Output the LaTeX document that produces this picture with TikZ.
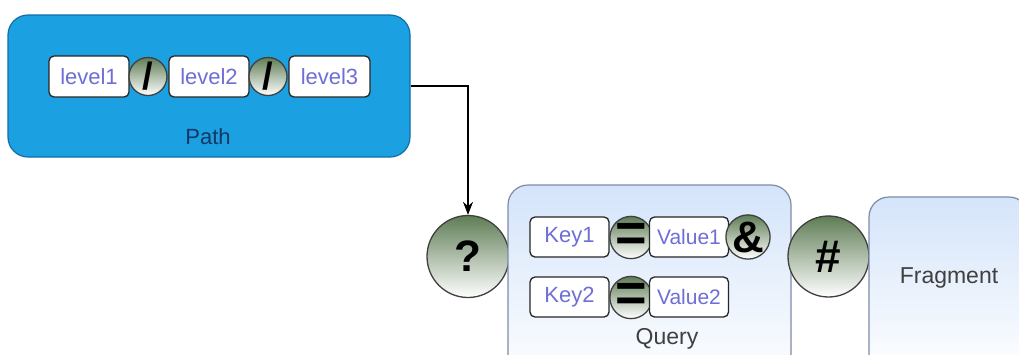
\documentclass[tikz,border=0pt]{standalone}
\usepackage{fontspec}
\setmainfont{Liberation Sans}
\usetikzlibrary{arrows.meta}
\definecolor{pathblue}{RGB}{27,160,225}
\definecolor{pathborder}{RGB}{16,110,170}
\definecolor{pathtext}{RGB}{20,55,100}
\definecolor{labeltxt}{RGB}{110,110,215}
\definecolor{symtop}{RGB}{95,125,85}
\definecolor{qfill}{RGB}{212,228,250}
\definecolor{qborder}{RGB}{125,140,165}
\begin{document}
\begin{tikzpicture}[x=1pt,y=-1pt,
  bigbox/.style={rounded corners=20pt, line width=1.2pt, inner sep=0pt},
  pathbox/.style={bigbox, fill=pathblue, draw=pathborder},
  qbox/.style={bigbox, draw=qborder, top color=qfill, bottom color=white},
  itembox/.style={draw=black!85, fill=white, rounded corners=5pt, line width=1.3pt,
    minimum width=79pt, minimum height=40pt, inner sep=0pt, text=labeltxt,
    font=\fontsize{22}{22}\selectfont},
  sym/.style={circle, draw=black!75, line width=1.3pt, top color=symtop, bottom color=white,
    inner sep=0pt, font=\bfseries},
  boxtext/.style={font=\fontsize{23}{23}\selectfont, text=black!75},
  arrow/.style={-{Stealth[length=13pt,width=10pt]}, line width=1.3pt}
]
\useasboundingbox (0,0) rectangle (1019,354);
\clip (0,0) rectangle (1019,354);
\fill[white] (0,0) rectangle (1019,354);

% Path box
\node[pathbox, minimum width=402pt, minimum height=142pt] (p) at (209,86) {};
\node[font=\fontsize{22}{22}\selectfont, text=pathtext] (ptxt) at (208,137) {Path};
\node[itembox, minimum width=80pt, minimum height=41pt] (l1) at (89,76.5) {level1};
\node[sym, minimum size=38pt, font=\bfseries\fontsize{38}{38}\selectfont] (s1) at (148,76.5) {/};
\node[itembox, minimum width=80pt, minimum height=41pt] (l2) at (209,76.5) {level2};
\node[sym, minimum size=38pt, font=\bfseries\fontsize{38}{38}\selectfont] (s2) at (268,76.5) {/};
\node[itembox, minimum width=81pt, minimum height=41pt] (l3) at (329.5,76.5) {level3};

% question mark
\node[sym, minimum size=82pt, font=\bfseries\fontsize{44}{44}\selectfont] (qm) at (468,256.5) {?};

% Query box
\node[qbox, minimum width=283pt, minimum height=200pt] (qb) at (649.5,285) {};
\node[boxtext] (qtxt) at (667,339) {Query};
\node[itembox] (k1) at (569.5,237) {Key1};
\node[sym, minimum size=39pt, font=\bfseries\fontsize{54}{54}\selectfont] (e1) at (631,237.5) {=};
\node[itembox, font=\fontsize{21}{21}\selectfont] (v1) at (689,237) {Value1};
\node[sym, minimum size=40pt, font=\bfseries\fontsize{44}{44}\selectfont] (amp) at (748,237) {\&};
\node[itembox] (k2) at (569.5,297) {Key2};
\node[sym, minimum size=39pt, font=\bfseries\fontsize{54}{54}\selectfont] (e2) at (631,297.5) {=};
\node[itembox, font=\fontsize{21}{21}\selectfont] (v2) at (689,297) {Value2};

% hash
\node[sym, minimum size=81pt, font=\bfseries\fontsize{46}{46}\selectfont] (hash) at (828.5,256.5) {\#};

% Fragment box
\node[qbox, minimum width=160pt, minimum height=180pt] (frag) at (949,287) {};
\node[boxtext] (ftxt) at (949,278) {Fragment};

% connector
\draw[arrow] (p.east) -| (qm.north);
\end{tikzpicture}
\end{document}
